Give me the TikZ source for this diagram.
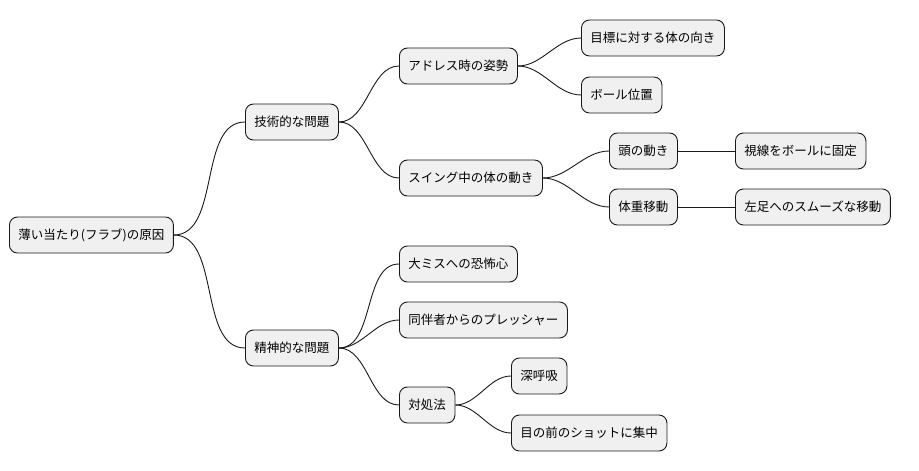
\documentclass[tikz,border=0pt]{standalone}
\usepackage{fontspec}
\setmainfont{Noto Sans CJK JP}
\begin{document}
\begin{tikzpicture}[x=1pt,y=-1pt,
  box/.style={draw=black!90,line width=0.9pt,fill=black!6,rounded corners=8pt,minimum height=36pt,inner xsep=9pt,font=\fontsize{12.5}{14}\selectfont,anchor=west},
  ln/.style={line width=0.9pt,black!90}]
\useasboundingbox (0,0) rectangle (919,471);
\node[box] (r) at (9,235) {薄い当たり(フラブ)の原因};
\node[box] (t) at (245,122) {技術的な問題};
\node[box] (s) at (245,348) {精神的な問題};
\node[box] (a) at (399,66) {アドレス時の姿勢};
\node[box] (b) at (399,178) {スイング中の体の動き};
\node[box] (a1) at (581,38) {目標に対する体の向き};
\node[box] (a2) at (581,95) {ボール位置};
\node[box] (b1) at (609,151) {頭の動き};
\node[box] (b2) at (609,207) {体重移動};
\node[box] (b11) at (735,151) {視線をボールに固定};
\node[box] (b21) at (735,207) {左足へのスムーズな移動};
\node[box] (c) at (399,264) {大ミスへの恐怖心};
\node[box] (d) at (399,320) {同伴者からのプレッシャー};
\node[box] (e) at (399,405) {対処法};
\node[box] (e1) at (511,376) {深呼吸};
\node[box] (e2) at (511,433) {目の前のショットに集中};
\foreach \p/\c in {r/t,r/s,t/a,t/b,a/a1,a/a2,b/b1,b/b2,s/c,s/d,s/e,e/e1,e/e2}
  \draw[ln] (\p.east) to[out=0,in=180,looseness=0.9] (\c.west);
\draw[ln] (b1.east) -- (b11.west);
\draw[ln] (b2.east) -- (b21.west);
\end{tikzpicture}
\end{document}
